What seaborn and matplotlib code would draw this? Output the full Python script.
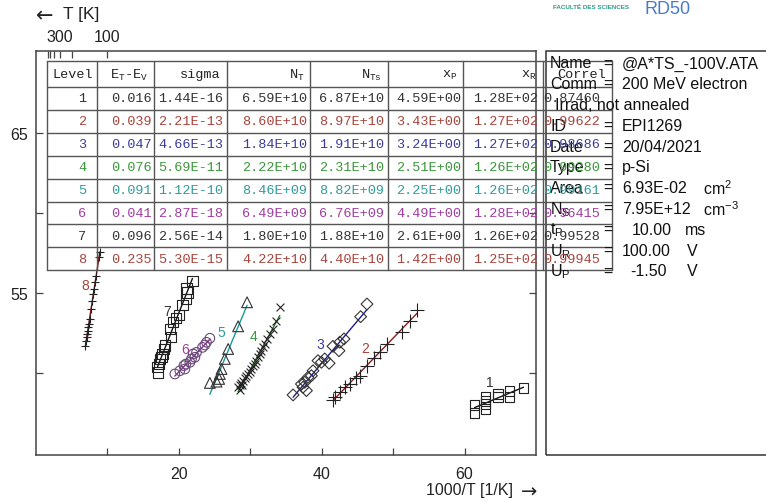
import numpy as np
import pandas as pd
import matplotlib
matplotlib.use("Agg")
import matplotlib.pyplot as plt
import seaborn as sns
from matplotlib.lines import Line2D
from matplotlib.patches import Rectangle
from matplotlib.ticker import FixedLocator, NullFormatter

# ---------------- data ----------------
s1_x = [68.25, 66.29, 66.29, 64.66, 64.66, 62.94, 62.94, 62.94, 62.94, 61.40, 61.40]
s1_y = [49.04, 48.86, 48.52, 48.69, 48.48, 48.48, 48.27, 48.06, 47.75, 48.00, 47.50]

s2_x = [53.38, 52.31, 51.23, 49.14, 48.11, 47.27, 46.34, 45.31, 44.76, 43.92, 43.22, 42.52, 41.82, 41.58]
s2_y = [53.96, 53.27, 52.54, 51.81, 51.33, 50.92, 50.42, 49.83, 49.67, 49.31, 49.11, 48.79, 48.48, 48.33]

s3_x = [46.34, 45.45, 43.12, 42.52, 42.42, 41.58, 41.03, 40.42, 39.96, 39.48, 38.78, 38.56, 38.08, 37.62, 37.38, 37.86, 37.16, 35.99]
s3_y = [54.31, 53.52, 52.13, 51.92, 51.39, 51.67, 50.61, 50.88, 50.67, 50.77, 50.14, 49.83, 49.73, 49.42, 49.11, 48.90, 49.31, 48.63]

s4_x = [34.13, 33.66, 33.19, 32.73, 32.35, 32.03, 31.79, 31.56, 31.33, 31.09, 30.86, 30.63, 30.39, 30.16, 29.93, 29.69, 29.47, 29.23, 28.99, 28.77, 28.53, 28.29, 28.50, 28.90]
s4_y = [54.11, 53.27, 52.75, 52.44, 52.13, 51.81, 51.60, 51.39, 51.19, 50.98, 50.77, 50.56, 50.42, 50.25, 50.08, 49.94, 49.79, 49.67, 49.52, 49.38, 49.25, 49.11, 48.95, 49.25]

s5_x = [29.55, 28.30, 26.90, 26.43, 25.97, 25.73, 25.64, 25.27, 24.34]
s5_y = [54.42, 52.92, 51.50, 50.88, 50.25, 49.94, 49.63, 49.46, 49.38]

s6_x = [24.34, 23.87, 23.64, 23.31, 22.47, 22.00, 22.24, 21.77, 21.54, 20.98, 20.70, 20.84, 20.14, 19.44]
s6_y = [52.17, 51.92, 51.75, 51.60, 51.29, 51.19, 50.98, 50.88, 50.67, 50.56, 50.46, 50.25, 50.14, 49.94]

s7_x = [21.90, 21.08, 21.20, 20.98, 20.50, 20.05, 19.58, 19.20, 18.74, 18.88, 18.04, 17.90, 17.72, 17.58, 17.34, 17.25, 17.02, 17.10]
s7_y = [55.77, 55.29, 55.04, 54.63, 54.25, 53.63, 53.42, 53.17, 52.75, 52.23, 51.71, 51.50, 51.19, 50.98, 50.88, 50.56, 50.36, 50.04]

s8_x = [8.94, 8.83, 8.42, 8.29, 8.14, 8.03, 7.88, 7.71, 7.50, 7.39, 7.32, 7.24, 7.17, 7.11, 7.02, 6.92]
s8_y = [57.56, 57.25, 56.06, 55.69, 55.25, 54.94, 54.50, 54.00, 53.38, 53.06, 52.88, 52.63, 52.44, 52.25, 52.00, 51.69]

levels = [1, 2, 3, 4, 5, 6, 7, 8]
et_ev = [0.016, 0.039, 0.047, 0.076, 0.091, 0.041, 0.096, 0.235]
sigma = [1.44e-16, 2.21e-13, 4.66e-13, 5.69e-11, 1.12e-10, 2.87e-18, 2.56e-14, 5.30e-15]
n_t = [6.59e10, 8.60e10, 1.84e10, 2.22e10, 8.46e9, 6.49e9, 1.80e10, 4.22e10]
n_ts = [6.87e10, 8.97e10, 1.91e10, 2.31e10, 8.82e9, 6.76e9, 1.88e10, 4.40e10]
x_p = [4.59, 3.43, 3.24, 2.51, 2.25, 4.49, 2.61, 1.42]
x_r = [128, 127, 127, 126, 126, 128, 126, 125]
correl = [0.87460, 0.99622, 0.98686, 0.99280, 0.99161, 0.96415, 0.99528, 0.99945]

temp_labels = [300, 100]
temp_minor = [600, 500, 400, 200]

# label positions of the level numbers near each series
lab_x = [63.6, 46.15, 39.86, 30.4, 25.97, 20.84, 18.32, 6.85]
lab_y = [49.42, 51.54, 51.81, 52.33, 52.58, 51.5, 53.88, 55.47]

series_x = [s1_x, s2_x, s3_x, s4_x, s5_x, s6_x, s7_x, s8_x]
series_y = [s1_y, s2_y, s3_y, s4_y, s5_y, s6_y, s7_y, s8_y]

# ---------------- style ----------------
row_colors = ['#333333', '#a8443c', '#3c3ca0', '#3c963c', '#2e9c9c', '#a03ca0', '#333333', '#a8443c']
line_colors = ['#111111', '#8c1c1c', '#1c1c8c', '#1c7a1c', '#1a9a9a', '#8a2a8a', '#111111', '#7a0c0c']
mark_colors = ['#222222', '#222222', '#333333', '#222222', '#333333', '#6a4a7a', '#222222', '#222222']
markers = ['s', '+', 'D', 'x', '^', 'o', 's', '+']
msizes = [50, 95, 36, 32, 60, 48, 55, 36]

sns.set_theme(style="white")
plt.rcParams['font.family'] = ['Liberation Sans', 'DejaVu Sans']

W, H = 766, 502
fig = plt.figure(figsize=(W / 100, H / 100), dpi=100)
fig.patch.set_facecolor('white')

def fx(px):
    return px / W

def fy(py):
    return 1 - py / H

ax = fig.add_axes([fx(36), fy(456), fx(536) - fx(36), fy(52) - fy(456)])
ax.set_facecolor('white')

for i in range(8):
    df = pd.DataFrame({'x': series_x[i], 'y': series_y[i]})
    sns.regplot(data=df, x='x', y='y', ci=None, scatter=False, ax=ax,
                color=line_colors[i], line_kws={'lw': 1.0}, truncate=True)
    m = markers[i]
    if m in ('+', 'x'):
        sns.scatterplot(data=df, x='x', y='y', marker=m, s=msizes[i], color=mark_colors[i],
                        linewidth=0.8, ax=ax, zorder=3)
    else:
        sns.scatterplot(data=df, x='x', y='y', marker=m, s=msizes[i], facecolor='none',
                        edgecolor=mark_colors[i], linewidth=0.8, ax=ax, zorder=3)
    ax.text(lab_x[i], lab_y[i], str(levels[i]), color=row_colors[i], fontsize=10,
            ha='center', va='center')

ax.set_xlim(0, 70)
ax.set_ylim(44.875, 70.125)
ax.set_xlabel('')
ax.set_ylabel('')
ax.xaxis.set_major_locator(FixedLocator([20, 40, 60]))
ax.xaxis.set_minor_locator(FixedLocator([10, 30, 50]))
ax.yaxis.set_major_locator(FixedLocator([55, 65]))
ax.yaxis.set_minor_locator(FixedLocator([50, 60]))
ax.tick_params(which='both', direction='in', length=5, width=0.9, color='#444444',
               labelsize=11.5, labelcolor='#222222', right=True, left=True, bottom=True, top=False)
ax.tick_params(axis='x', pad=8)
ax.tick_params(axis='y', pad=6)
for sp in ax.spines.values():
    sp.set_color('#444444')
    sp.set_linewidth(1.1)

# top temperature axis
ax2 = ax.twiny()
ax2.set_xlim(ax.get_xlim())
ax2.xaxis.set_major_locator(FixedLocator([1000 / t for t in temp_labels]))
ax2.set_xticklabels([str(t) for t in temp_labels])
ax2.xaxis.set_minor_locator(FixedLocator([1000 / t for t in temp_minor]))
ax2.xaxis.set_minor_formatter(NullFormatter())
ax2.tick_params(which='both', direction='in', length=5, width=0.9, color='#444444',
                labelsize=11.5, labelcolor='#222222', pad=5)
ax2.grid(False)
for sp in ax2.spines.values():
    sp.set_visible(False)

fig.text(fx(36), fy(16), '\u2190', family=['DejaVu Sans'], fontsize=15, color='#222222',
         ha='left', va='center')
fig.text(fx(63), fy(15), 'T [K]', fontsize=12.5, color='#222222', ha='left', va='center')
fig.text(fx(513), fy(491), '1000/T [1/K]', fontsize=11.5, color='#222222', ha='right', va='center')
fig.text(fx(537), fy(492), '\u2192', family=['DejaVu Sans'], fontsize=14, color='#222222',
         ha='right', va='center')

# ---------------- right info panel ----------------
fig.add_artist(Rectangle((fx(546), fy(456)), fx(800) - fx(546), fy(52) - fy(456),
                         transform=fig.transFigure, fill=False, edgecolor='#333333', lw=1.1))
info_y0, info_dy = 64, 20.8
info_rows = [
    ('Name', [(622, '@A*TS_-100V.ATA')]),
    ('Comm', [(622, '200 MeV electron')]),
    (None, [(555, 'Irrad, not annealed')]),
    ('ID', [(622, 'EPI1269')]),
    ('Date', [(622, '20/04/2021')]),
    ('Type', [(622, 'p-Si')]),
    ('Area', [(622, '6.93E-02'), (703, r'cm$\mathregular{^2}$')]),
    (r'N$\mathregular{_S}$', [(622, '7.95E+12'), (703, r'cm$\mathregular{^{-3}}$')]),
    (r't$\mathregular{_P}$', [(632, '10.00'), (685, 'ms')]),
    (r'U$\mathregular{_R}$', [(622, '100.00'), (687, 'V')]),
    (r'U$\mathregular{_P}$', [(630, '-1.50'), (687, 'V')]),
]
for k, (lab, vals) in enumerate(info_rows):
    yy = info_y0 + k * info_dy
    if lab is not None:
        fig.text(fx(550), fy(yy), lab, fontsize=11.5, color='#111111', ha='left', va='center')
        fig.text(fx(608), fy(yy), '=', fontsize=11.5, color='#111111', ha='center', va='center')
    for xx, s in vals:
        fig.text(fx(xx), fy(yy), s, fontsize=11.5, color='#111111', ha='left', va='center')

# logos (text stand-ins)
fig.text(fx(553), fy(7), 'FACULTÉ DES SCIENCES', fontsize=4.5, color='#2a9a8a',
         fontweight='bold', ha='left', va='center')
fig.text(fx(645), fy(9), 'RD50', fontsize=13, color='#4a7ac8', ha='left', va='center')

# ---------------- parameter table ----------------
col_edges = [47, 97, 154, 227, 310, 388, 463, 543, 612]
row_edges = [62, 88] + [88 + 22.9 * k for k in range(1, 9)]
tcol = '#555555'
for xe in col_edges:
    fig.add_artist(Line2D([fx(xe), fx(xe)], [fy(row_edges[0]), fy(row_edges[-1])],
                          transform=fig.transFigure, color=tcol, lw=1.0))
for ye in row_edges:
    fig.add_artist(Line2D([fx(col_edges[0]), fx(col_edges[-1])], [fy(ye), fy(ye)],
                          transform=fig.transFigure, color=tcol, lw=1.0))

mono = ['Liberation Mono', 'DejaVu Sans Mono']
tfs = 9.7
headers = ['Level', r'E$\mathregular{_T}$-E$\mathregular{_V}$', 'sigma', r'N$\mathregular{_T}$',
           r'N$\mathregular{_{Ts}}$', r'x$\mathregular{_P}$', r'x$\mathregular{_R}$', 'Correl']
hy = (row_edges[0] + row_edges[1]) / 2
for j, h in enumerate(headers):
    if j == 0:
        fig.text(fx(col_edges[0] + 5), fy(hy), h, family=mono, fontsize=tfs, color='#222222',
                 ha='left', va='center')
    else:
        fig.text(fx(col_edges[j + 1] - 6), fy(hy), h, family=mono, fontsize=tfs, color='#222222',
                 ha='right', va='center')

pads = [11, 2, 4, 3, 4, 2, 5, 12]
for i in range(8):
    yy = (row_edges[i + 1] + row_edges[i + 2]) / 2
    cells = [str(levels[i]), f'{et_ev[i]:.3f}', f'{sigma[i]:.2E}', f'{n_t[i]:.2E}',
             f'{n_ts[i]:.2E}', f'{x_p[i]:.2E}', f'{x_r[i]:.2E}', f'{correl[i]:.5f}']
    for j, c in enumerate(cells):
        fig.text(fx(col_edges[j + 1] - pads[j]), fy(yy), c, family=mono, fontsize=tfs,
                 color=row_colors[i], ha='right', va='center')

fig.savefig('out.png', dpi=100)
